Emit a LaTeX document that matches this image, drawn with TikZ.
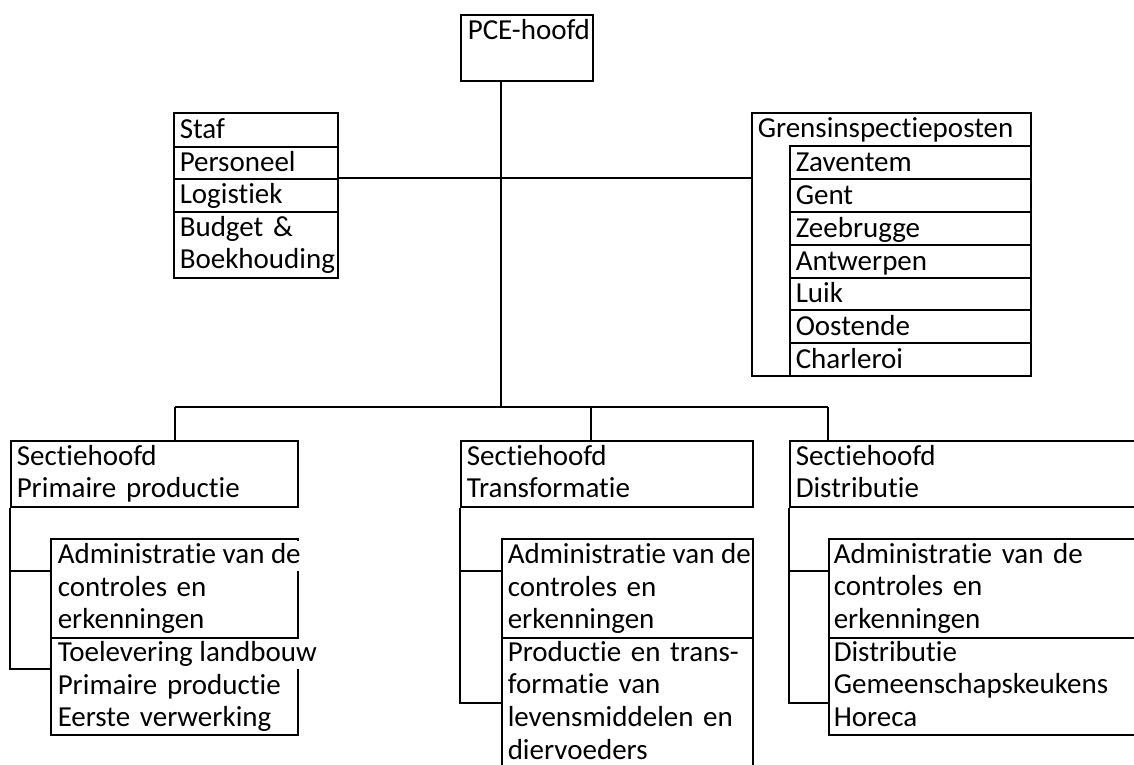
\documentclass[tikz,border=0pt]{standalone}
\usepackage{fontspec}
\setmainfont{Carlito}[Ligatures=NoCommon]
\begin{document}
\begin{tikzpicture}[x=1pt,y=-1pt,line width=1.5pt,
  box/.style={draw, inner sep=0pt, anchor=north west, minimum width=#1},
  txt/.style={anchor=base west, inner sep=0pt, font=\fontsize{29}{32.7}\selectfont, text width=400pt, align=left},
  fline/.style={anchor=base west, inner sep=0pt, font=\fontsize{29}{32.7}\selectfont, fill=white, text height=22pt, text depth=8pt}]
\useasboundingbox (0,0) rectangle (1134,764);
% top
\node[box=132pt, minimum height=66pt] (pce) at (460,14) {};
% staf
\node[box=164pt, minimum height=34pt] (staf1) at (173,112) {};
\node[box=164pt, minimum height=32pt] (staf2) at (173,146) {};
\node[box=164pt, minimum height=33pt] (staf3) at (173,178) {};
\node[box=164pt, minimum height=66pt] (staf4) at (173,211) {};
% grens
\node[box=279pt, minimum height=263pt] (gr) at (751,112) {};
\node[box=241pt, minimum height=33pt] (g1) at (789,145) {};
\node[box=241pt, minimum height=33pt] (g2) at (789,178) {};
\node[box=241pt, minimum height=33pt] (g3) at (789,211) {};
\node[box=241pt, minimum height=33pt] (g4) at (789,244) {};
\node[box=241pt, minimum height=32pt] (g5) at (789,277) {};
\node[box=241pt, minimum height=33pt] (g6) at (789,309) {};
\node[box=241pt, minimum height=33pt] (g7) at (789,342) {};
% sections
\node[box=287pt, minimum height=66pt] (s1) at (10,440) {};
\node[box=292pt, minimum height=66pt] (s2) at (460,440) {};
\node[box=400pt, minimum height=66pt] (s3) at (789,440) {};
\node[box=247pt, minimum height=99pt] (a11) at (50,538) {};
\node[box=247pt, minimum height=97pt] (a12) at (50,637) {};
\node[box=251pt, minimum height=99pt] (a21) at (501,538) {};
\node[box=251pt, minimum height=150pt] (a22) at (501,637) {};
\node[box=400pt, minimum height=99pt] (a31) at (828,538) {};
\node[box=400pt, minimum height=97pt] (a32) at (828,637) {};
% connectors
\coordinate (tr) at ([xshift=41pt]pce.south west);
\coordinate (d1) at (175,407);
\coordinate (d2) at (591,407);
\coordinate (d3) at (828,407);
\draw (tr) -- (tr |- d1);
\draw (staf3.north east) -- (staf3.north east -| gr.west);
\draw (d1) -- (d3);
\draw (d1) -- (d1 |- s1.north);
\draw (d2) -- (d2 |- s2.north);
\draw (d3) -- (d3 |- s3.north);
\draw (s1.south west) |- ([yshift=-33pt]a11.north west);
\draw (s1.south west) |- ([yshift=-32pt]a12.north west);
\draw (s2.south west) |- ([yshift=-33pt]a21.north west);
\draw (s2.south west) |- ([yshift=-66pt]a22.north west);
\draw (s3.south west) |- ([yshift=-33pt]a31.north west);
\draw (s3.south west) |- ([yshift=-66pt]a32.north west);
% texts
\node[txt] (tpce) at (467,39) {PCE-hoofd};
\node[txt] (ts1) at (179,138) {Staf};
\node[txt] (ts2) at (179,171) {Personeel};
\node[txt] (ts3) at (179,203) {Logistiek};
\node[txt] (ts4) at (179,236) {Budget \&\\Boekhouding};
\node[txt] (tg) at (757,137) {Grensinspectieposten};
\node[txt] (tg1) at (795,171) {Zaventem};
\node[txt] (tg2) at (795,204) {Gent};
\node[txt] (tg3) at (795,237) {Zeebrugge};
\node[txt] (tg4) at (795,270) {Antwerpen};
\node[txt] (tg5) at (795,302) {Luik};
\node[txt] (tg6) at (795,335) {Oostende};
\node[txt] (tg7) at (795,368) {Charleroi};
\node[txt] (tsec1) at (16,465) {Sectiehoofd\\Primaire productie};
\node[txt] (tsec2) at (466,465) {Sectiehoofd\\Transformatie};
\node[txt] (tsec3) at (795,465) {Sectiehoofd\\Distributie};
\node[fline] (ta11a) at (57,563) {Administratie van de};
\node[txt] (ta11b) at (57,596) {controles en\\erkenningen};
\node[fline] (ta12a) at (57,661) {Toelevering landbouw};
\node[txt] (ta12b) at (57,694) {Primaire productie\\Eerste verwerking};
\node[fline] (ta21a) at (507,563) {Administratie van de};
\node[txt] (ta21b) at (507,596) {controles en\\erkenningen};
\node[txt] (ta22) at (507,661) {Productie en trans-\\formatie van\\levensmiddelen en\\diervoeders};
\node[txt] (ta31) at (833,563) {Administratie van de\\controles en\\erkenningen};
\node[txt] (ta32) at (833,661) {Distributie\\Gemeenschapskeukens\\Horeca};
\end{tikzpicture}
\end{document}
